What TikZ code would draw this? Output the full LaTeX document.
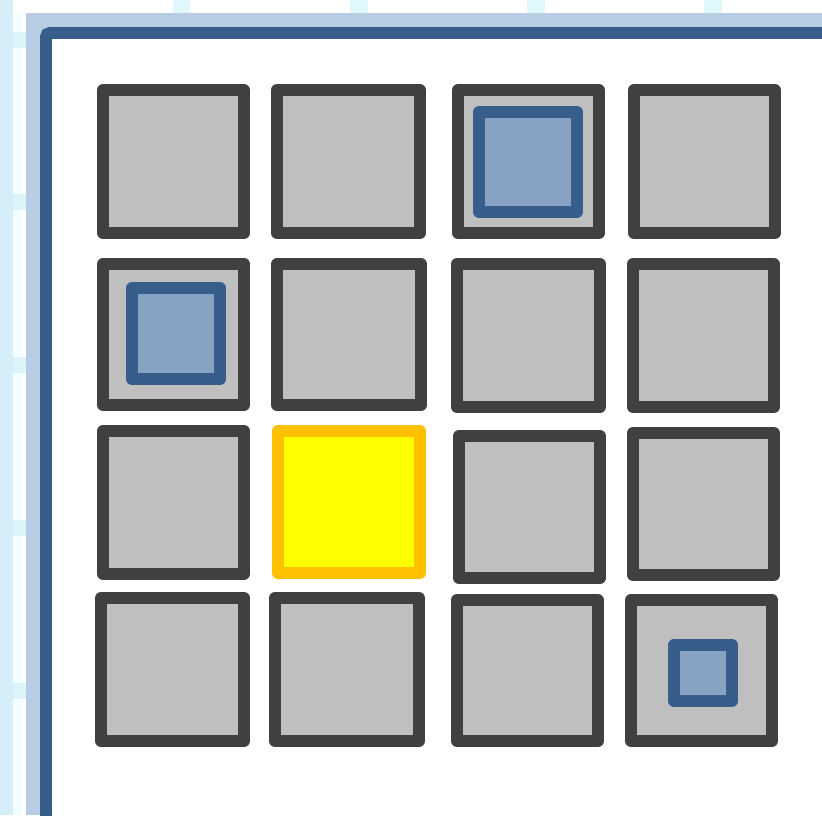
\documentclass[tikz,border=0pt]{standalone}
\usepackage{xcolor}
\definecolor{leftstrip}{HTML}{D5EEF8}
\definecolor{offwhite}{HTML}{F2FEFF}
\definecolor{bandc}{HTML}{DCF3FA}
\definecolor{topblock}{HTML}{E0F7FE}
\definecolor{lightband}{HTML}{B8CCE4}
\definecolor{darkblue}{HTML}{375D8A}
\definecolor{bluefill}{HTML}{87A2C2}
\definecolor{grayfill}{HTML}{BFBFBF}
\definecolor{graystroke}{HTML}{404040}
\definecolor{yellowfill}{HTML}{FFFF00}
\definecolor{orangestroke}{HTML}{FFC000}
\tikzset{
  cellbox/.style={draw=graystroke, fill=grayfill, line width=12pt, line join=round},
  hotbox/.style={draw=orangestroke, fill=yellowfill, line width=12pt, line join=round},
  markbox/.style={draw=darkblue, fill=bluefill, line width=12pt, line join=round},
}
\newcommand\mycell[5][cellbox]{\draw[#1] (#2+6,#4+6) rectangle (#3-6,#5-6);}
\begin{document}
\begin{tikzpicture}[x=1pt,y=-1pt]
\useasboundingbox (0,0) rectangle (822,815);
% background
\fill[white] (0,0) rectangle (822,815);
\fill[leftstrip] (0,0) rectangle (13,815);
\fill[offwhite] (13,13) rectangle (22,815);
\foreach \a/\b in {32/48,194/210,357/373,520/536,683/699}{
  \fill[bandc] (13,\a) rectangle (26,\b);
}
\foreach \a/\b in {173/190,350/368,527/545,704/722}{
  \fill[topblock] (\a,0) rectangle (\b,13);
}
% frame
\fill[lightband] (26,13) rectangle (822,815);
\draw[darkblue, fill=white, line width=12pt, rounded corners=4pt] (46,840) -- (46,33) -- (850,33);
\fill[white] (52,39) rectangle (822,815);
% row 1
\mycell{97}{250}{84}{239}
\mycell{271}{426}{84}{239}
\mycell{452}{605}{84}{239}
\mycell{628}{781}{84}{239}
% row 2
\mycell{97}{250}{258}{411}
\mycell{271}{427}{258}{411}
\mycell{451}{606}{258}{413}
\mycell{627}{780}{258}{413}
% row 3
\mycell{97}{250}{425}{580}
\mycell[hotbox]{272}{426}{425}{579}
\mycell{453}{606}{430}{584}
\mycell{627}{780}{427}{581}
% row 4
\mycell{95}{250}{592}{747}
\mycell{269}{425}{592}{747}
\mycell{451}{604}{594}{747}
\mycell{625}{778}{594}{747}
% marks
\mycell[markbox]{473}{583}{106}{218}
\mycell[markbox]{126}{226}{282}{385}
\mycell[markbox]{668}{738}{639}{707}
\end{tikzpicture}
\end{document}
